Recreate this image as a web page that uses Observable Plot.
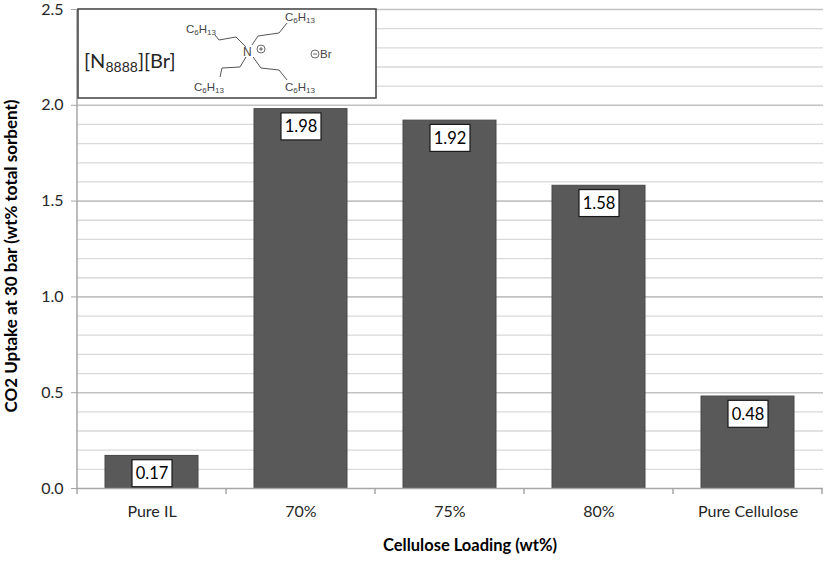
<!DOCTYPE html>
<html><head><meta charset="utf-8">
<script src="https://cdn.jsdelivr.net/npm/d3@7"></script>
<script src="https://cdn.jsdelivr.net/npm/@observablehq/plot@0.6"></script>
<style>body{margin:0;background:#fff}</style>
</head><body><div id="chart"></div>
<script>
const categories = ["Pure IL", "70%", "75%", "80%", "Pure Cellulose"];
const uptake = [0.17, 1.98, 1.92, 1.58, 0.48];
const valueLabels = ["0.17", "1.98", "1.92", "1.58", "0.48"];
const yMajorTicks = [0, 0.5, 1.0, 1.5, 2.0, 2.5];
const yMinorTicks = [0.1, 0.2, 0.3, 0.4, 0.6, 0.7, 0.8, 0.9, 1.1, 1.2, 1.3, 1.4, 1.6, 1.7, 1.8, 1.9, 2.1, 2.2, 2.3, 2.4];
const xTitle = "Cellulose Loading (wt%)";
const yTitle = "CO2 Uptake at 30 bar (wt% total sorbent)";

const data = categories.map((c, i) => ({category: c, uptake: uptake[i], label: valueLabels[i]}));

const W = 827, H = 561;
const mL = 77, mR = 4, mT = 9, mB = 73;
const FONT = "Lato, 'Open Sans', sans-serif";
const SFONT = "'Liberation Sans', Arial, sans-serif";

const plot = Plot.plot({
  width: W, height: H,
  marginLeft: mL, marginRight: mR, marginTop: mT, marginBottom: mB,
  style: {fontFamily: FONT, background: "#fff", color: "#262626", overflow: "visible"},
  x: {domain: categories, paddingInner: 0.373, paddingOuter: 0.1865, label: null},
  y: {domain: [0, 2.5], label: null},
  marks: [
    Plot.ruleY(yMinorTicks, {stroke: "#d9d9d9", strokeWidth: 1.3}),
    Plot.ruleY(yMajorTicks.slice(1), {stroke: "#c2c2c2", strokeWidth: 1.6}),
    Plot.barY(data, {x: "category", y: "uptake", fill: "#595959", stroke: "#484848", strokeWidth: 1}),
    Plot.ruleY([0], {stroke: "#a6a6a6", strokeWidth: 1.5}),
    Plot.axisY({ticks: yMajorTicks, tickFormat: d => d.toFixed(1), tickSize: 6, tickPadding: 8, fontSize: 16, stroke: "#a6a6a6", fill: "#262626", label: null}),
    Plot.axisX({tickSize: 0, tickPadding: 17, fontSize: 16, fill: "#262626", label: null}),
    Plot.text(data, {x: "category", y: "uptake", text: "label", dy: 18, fontSize: 16.5, fill: "#000", className: "vlabel"})
  ]
});
document.getElementById("chart").appendChild(plot);

const svg = d3.select(plot);
const xs = plot.scale("x");
const step = xs.step, bw = xs.bandwidth;
const y0 = H - mB;

// label boxes (same transform as the text)
svg.selectAll(".vlabel text").each(function() {
  const bb = this.getBBox();
  const cx = bb.x + bb.width / 2, cy = bb.y + bb.height / 2;
  d3.select(this.parentNode).insert("rect", () => this)
    .attr("transform", this.getAttribute("transform"))
    .attr("x", cx - 20).attr("y", cy - 13.5).attr("width", 40).attr("height", 27)
    .attr("fill", "#fff").attr("stroke", "#1a1a1a").attr("stroke-width", 1.2);
});

// axis lines & category boundary ticks
const deco = svg.append("g").attr("text-anchor", "start");
deco.append("line").attr("x1", mL).attr("x2", mL).attr("y1", mT).attr("y2", y0)
  .attr("stroke", "#a6a6a6").attr("stroke-width", 1.5);
const bounds = categories.map(c => xs.apply(c) - (step - bw) / 2);
bounds.push(bounds[bounds.length - 1] + step);
bounds.forEach(b => deco.append("line").attr("x1", b).attr("x2", b).attr("y1", y0).attr("y2", y0 + 6)
  .attr("stroke", "#a6a6a6").attr("stroke-width", 1.5));

// axis titles
deco.append("text").attr("transform", `translate(13,256) rotate(-90)`)
  .attr("text-anchor", "middle").attr("dominant-baseline", "middle")
  .attr("font-family", FONT).attr("font-weight", "bold").attr("font-size", 17).attr("fill", "#000")
  .text(yTitle);
deco.append("text").attr("x", 470).attr("y", 547)
  .attr("text-anchor", "middle").attr("dominant-baseline", "middle")
  .attr("font-family", FONT).attr("font-weight", "bold").attr("font-size", 16.5).attr("fill", "#000")
  .text(xTitle);

// inset with structure
const inset = svg.append("g").attr("text-anchor", "start");
inset.append("rect").attr("x", 78).attr("y", 9).attr("width", 298).attr("height", 89)
  .attr("fill", "#fff").attr("stroke", "#404040").attr("stroke-width", 1.5);
const nm = inset.append("text").attr("x", 84).attr("y", 68).attr("font-family", FONT)
  .attr("font-size", 20).attr("fill", "#262626");
nm.append("tspan").text("[N");
nm.append("tspan").attr("font-size", 14).attr("dy", 4).text("8888");
nm.append("tspan").attr("dy", -4).text("][Br]");

const bonds = [
  [[252, 45], [258, 36], [279, 33], [287, 23]],
  [[246, 47], [236, 37], [219, 40], [215, 35]],
  [[246, 57], [240, 67], [222, 68], [220, 77]],
  [[253, 57], [261, 68], [279, 70], [287, 80]]
];
bonds.forEach(p => inset.append("polyline").attr("points", p.map(q => q.join(",")).join(" "))
  .attr("fill", "none").attr("stroke", "#555").attr("stroke-width", 1));
const chains = [[285, 21], [186, 33], [194, 91], [285, 91]];
chains.forEach(([x, yy]) => {
  const t = inset.append("text").attr("x", x).attr("y", yy).attr("font-family", SFONT)
    .attr("font-size", 11.5).attr("fill", "#444");
  t.append("tspan").text("C");
  t.append("tspan").attr("font-size", 8).attr("dy", 2).text("6");
  t.append("tspan").attr("dy", -2).text("H");
  t.append("tspan").attr("font-size", 8).attr("dy", 2).text("13");
});
inset.append("text").attr("x", 243).attr("y", 56).attr("font-family", SFONT)
  .attr("font-size", 12).attr("fill", "#444").text("N");
inset.append("circle").attr("cx", 261).attr("cy", 49).attr("r", 4).attr("fill", "none").attr("stroke", "#444").attr("stroke-width", 0.8);
inset.append("line").attr("x1", 259).attr("x2", 263).attr("y1", 49).attr("y2", 49).attr("stroke", "#444").attr("stroke-width", 0.8);
inset.append("line").attr("x1", 261).attr("x2", 261).attr("y1", 47).attr("y2", 51).attr("stroke", "#444").attr("stroke-width", 0.8);
inset.append("circle").attr("cx", 315).attr("cy", 54).attr("r", 4).attr("fill", "none").attr("stroke", "#444").attr("stroke-width", 0.8);
inset.append("line").attr("x1", 313).attr("x2", 317).attr("y1", 54).attr("y2", 54).attr("stroke", "#444").attr("stroke-width", 0.8);
inset.append("text").attr("x", 320).attr("y", 58).attr("font-family", SFONT)
  .attr("font-size", 11.5).attr("fill", "#444").text("Br");
</script>
</body></html>
